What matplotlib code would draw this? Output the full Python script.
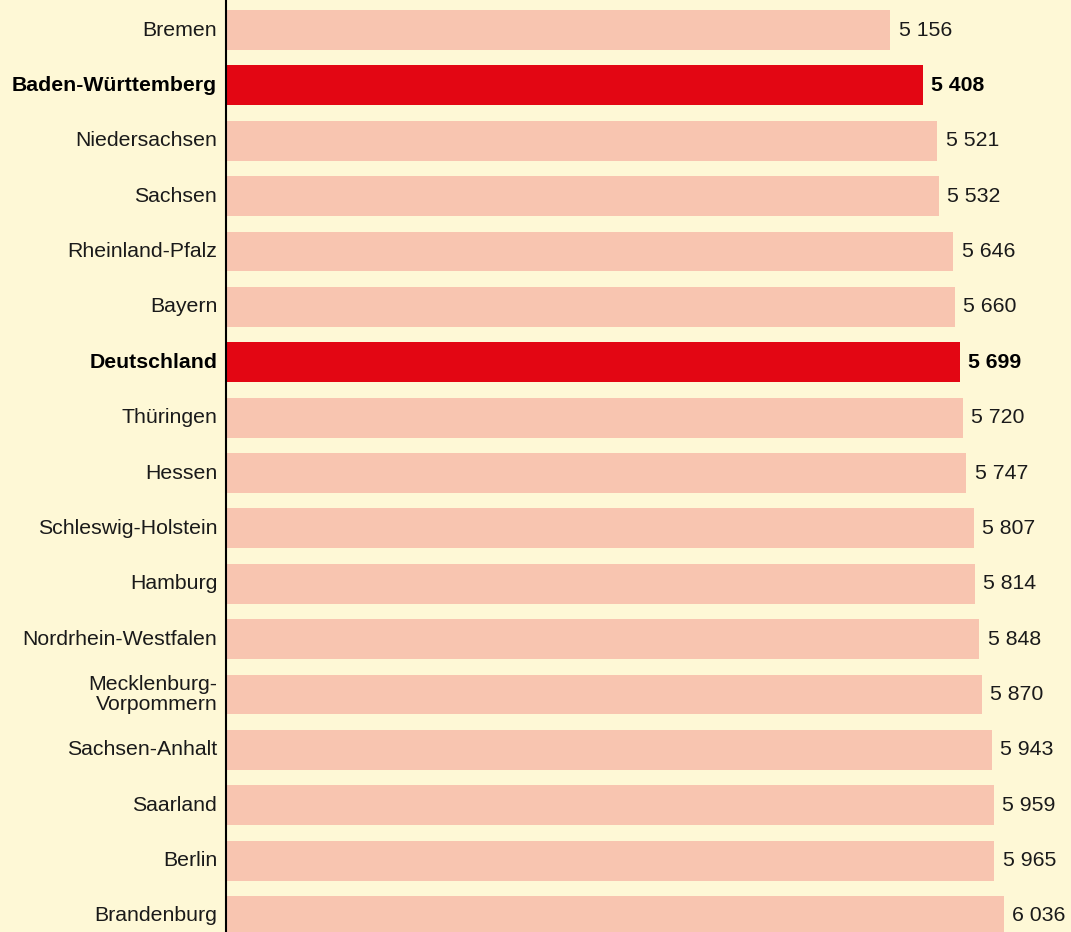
import matplotlib
matplotlib.use("Agg")
import matplotlib.pyplot as plt

states = ["Bremen", "Baden-Württemberg", "Niedersachsen", "Sachsen", "Rheinland-Pfalz",
          "Bayern", "Deutschland", "Thüringen", "Hessen", "Schleswig-Holstein", "Hamburg",
          "Nordrhein-Westfalen", "Mecklenburg-\nVorpommern", "Sachsen-Anhalt", "Saarland",
          "Berlin", "Brandenburg"]
values = [5156, 5408, 5521, 5532, 5646, 5660, 5699, 5720, 5747, 5807, 5814,
          5848, 5870, 5943, 5959, 5965, 6036]
highlight = ["Baden-Württemberg", "Deutschland"]

BG = "#FEF8D6"
PINK = "#F8C5B0"
RED = "#E30613"
TXT = "#1a1a1a"

plt.rcParams['font.family'] = ['Liberation Sans', 'DejaVu Sans']

fig = plt.figure(figsize=(10.71, 9.32), dpi=100)
fig.patch.set_facecolor(BG)
ax = fig.add_axes([226 / 1071, 0, 1 - 226 / 1071, 1])
ax.set_facecolor(BG)

ypos = list(range(len(states)))
colors = [RED if s in highlight else PINK for s in states]
ax.barh(ypos, values, height=0.722, color=colors, left=0)

ax.set_xlim(0, 6560)
ax.set_ylim(16.289, -0.542)

for y, s, v in zip(ypos, states, values):
    bold = s in highlight
    ax.text(v + 65, y, f"{v:,}".replace(",", " "), va="center", ha="left",
            fontsize=15.3, color=TXT if not bold else "black",
            fontweight="bold" if bold else "normal")
    ax.text(-68, y, s, va="center", ha="right", fontsize=15.3,
            color=TXT if not bold else "black",
            fontweight="bold" if bold else "normal",
            linespacing=1.05, clip_on=False)

ax.set_xticks([])
ax.set_yticks([])
for side in ["top", "right", "bottom"]:
    ax.spines[side].set_visible(False)
ax.spines["left"].set_color("black")
ax.spines["left"].set_linewidth(1.5)

fig.savefig("out.png", dpi=100, facecolor=BG)
